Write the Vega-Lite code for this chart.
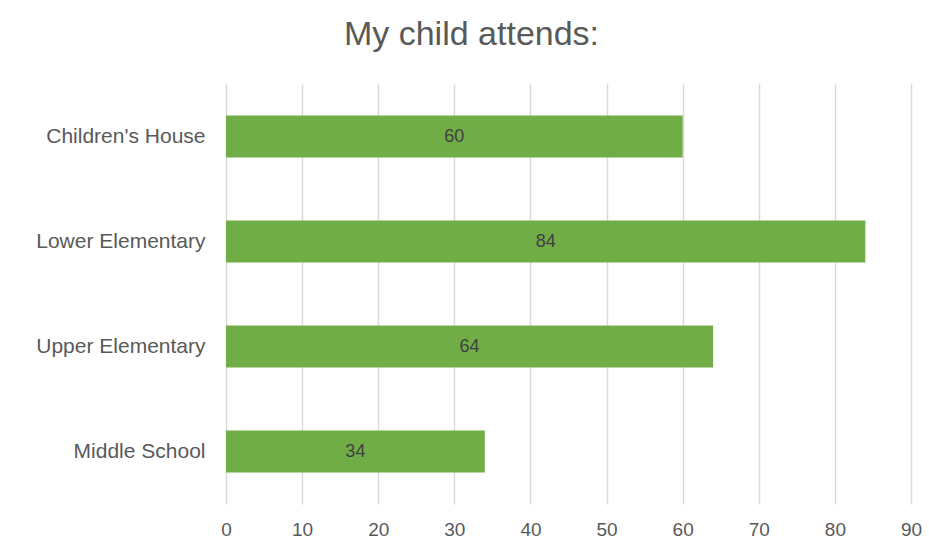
{
  "$schema": "https://vega.github.io/schema/vega-lite/v6.json",
  "width": 685,
  "height": 420,
  "autosize": "none",
  "padding": {"left": 226, "top": 84, "right": 18, "bottom": 46},
  "background": "white",
  "title": {
    "text": "My child attends:",
    "font": "Liberation Sans",
    "fontSize": 34,
    "fontWeight": "normal",
    "color": "#595959",
    "anchor": "middle",
    "dx": -97,
    "offset": 32
  },
  "config": {"view": {"stroke": null}},
  "data": {
    "values": [
      {"category": "Children's House", "value": 60},
      {"category": "Lower Elementary", "value": 84},
      {"category": "Upper Elementary", "value": 64},
      {"category": "Middle School", "value": 34}
    ]
  },
  "encoding": {
    "y": {
      "field": "category",
      "type": "nominal",
      "sort": null,
      "scale": {"paddingInner": 0.6, "paddingOuter": 0.3},
      "axis": {
        "title": null,
        "domain": false,
        "ticks": false,
        "labelFont": "Liberation Sans",
        "labelFontSize": 21,
        "labelColor": "#595959",
        "labelPadding": 21,
        "labelLimit": 300
      }
    }
  },
  "layer": [
    {
      "mark": {"type": "bar", "color": "#70AD47"},
      "encoding": {
        "x": {
          "field": "value",
          "type": "quantitative",
          "scale": {"domain": [0, 90], "nice": false},
          "axis": {
            "title": null,
            "values": [0, 10, 20, 30, 40, 50, 60, 70, 80, 90],
            "domain": false,
            "ticks": false,
            "grid": true,
            "gridColor": "#D9D9D9",
            "gridWidth": 1.5,
            "labelFlush": false,
            "labelFont": "Liberation Sans",
            "labelFontSize": 19,
            "labelColor": "#595959",
            "labelPadding": 16
          }
        }
      }
    },
    {
      "transform": [{"calculate": "datum.value / 2", "as": "labelPos"}],
      "mark": {"type": "text", "font": "Liberation Sans", "fontSize": 18, "color": "#404040", "align": "center"},
      "encoding": {
        "x": {"field": "labelPos", "type": "quantitative"},
        "text": {"field": "value", "type": "quantitative"}
      }
    }
  ]
}
